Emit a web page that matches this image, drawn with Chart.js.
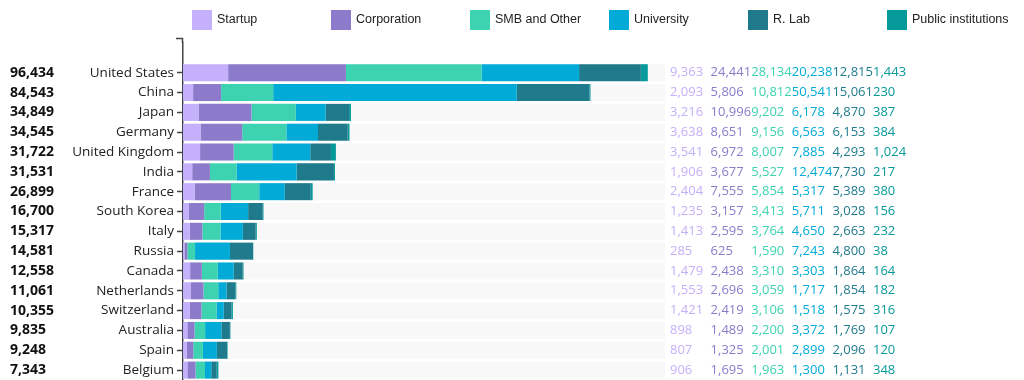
<!DOCTYPE html>
<html>
<head>
<meta charset="utf-8">
<script src="https://cdn.jsdelivr.net/npm/chart.js@4"></script>
<style>
  html, body { margin: 0; padding: 0; background: #fff; }
  #wrap { width: 1024px; height: 380px; position: relative; }
</style>
</head>
<body>
<div id="wrap"><canvas id="grafica"></canvas></div>
<script>
// countries, top to bottom ('' = empty slot above the first bar)
var paises = ['', 'United States', 'China', 'Japan', 'Germany', 'United Kingdom', 'India', 'France',
  'South Korea', 'Italy', 'Russia', 'Canada', 'Netherlands', 'Switzerland', 'Australia', 'Spain', 'Belgium']

var startup     = [null, 9363, 2093, 3216, 3638, 3541, 1906, 2404, 1235, 1413, 285, 1479, 1553, 1421, 898, 807, 906]
var corporation = [null, 24441, 5806, 10996, 8651, 6972, 3677, 7555, 3157, 2595, 625, 2438, 2696, 2419, 1489, 1325, 1695]
var smb         = [null, 28134, 10812, 9202, 9156, 8007, 5527, 5854, 3413, 3764, 1590, 3310, 3059, 3106, 2200, 2001, 1963]
var university  = [null, 20238, 50541, 6178, 6563, 7885, 12474, 5317, 5711, 4650, 7243, 3303, 1717, 1518, 3372, 2899, 1300]
var rlab        = [null, 12815, 15061, 4870, 6153, 4293, 7730, 5389, 3028, 2663, 4800, 1864, 1854, 1575, 1769, 2096, 1131]
var publicas    = [null, 1443, 230, 387, 384, 1024, 217, 380, 156, 232, 38, 164, 182, 316, 107, 120, 348]

var escalaMax = 100000

var colores = ['#c5b0fb', '#8c7bcb', '#3dd3b0', '#02abd7', '#1f7a8c', '#069a9a']
var nombres = ['Startup', 'Corporation', 'SMB and Other', 'University', 'R. Lab', 'Public institutions']
var series = [startup, corporation, smb, university, rlab, publicas]

function fmt(n) { return n.toLocaleString('en-US') }

var extras = {
  id: 'extras',
  beforeDatasetsDraw: function(chart) {
    var ctx = chart.ctx, x = chart.scales.x, y = chart.scales.y
    var meta = chart.getDatasetMeta(0)
    ctx.save()
    ctx.fillStyle = '#f8f8f8'
    for (var i = 1; i < paises.length; i++) {
      var h = meta.data[i].height
      var cy = y.getPixelForValue(i)
      ctx.fillRect(x.getPixelForValue(0), cy - h / 2, x.getPixelForValue(escalaMax) - x.getPixelForValue(0), h)
    }
    ctx.restore()
  },
  afterDraw: function(chart) {
    var ctx = chart.ctx, y = chart.scales.y
    ctx.save()
    // outer tick at top of the axis
    ctx.strokeStyle = '#444'
    ctx.lineWidth = 1.5
    ctx.beginPath()
    ctx.moveTo(176, 38.5); ctx.lineTo(182.5, 38.5); ctx.lineTo(182.5, chart.chartArea.top)
    ctx.stroke()

    // legend
    ctx.textBaseline = 'middle'
    ctx.font = '12.5px "Liberation Sans", sans-serif'
    for (var k = 0; k < nombres.length; k++) {
      var lx = 192 + k * 139
      ctx.fillStyle = colores[k]
      ctx.fillRect(lx, 10, 20, 20)
      ctx.fillStyle = '#222'
      ctx.textAlign = 'left'
      ctx.fillText(nombres[k], lx + 25, 20)
    }

    for (var i = 1; i < paises.length; i++) {
      var cy = y.getPixelForValue(i)
      var total = 0
      series.forEach(function(s) { total += s[i] })
      ctx.font = 'bold 14px "Open Sans", sans-serif'
      ctx.fillStyle = '#111'
      ctx.textAlign = 'left'
      ctx.fillText(fmt(total), 10, cy)
      ctx.font = '13px "Open Sans", sans-serif'
      for (var j = 0; j < series.length; j++) {
        ctx.fillStyle = colores[j]
        ctx.fillText(fmt(series[j][i]), 670 + j * 40.6, cy)
      }
    }
    ctx.restore()
  }
}

var ctx = document.getElementById('grafica').getContext('2d')
var grafica = new Chart(ctx, {
  type: 'bar',
  data: {
    labels: paises,
    datasets: series.map(function(s, k) {
      return {
        label: nombres[k],
        data: s,
        backgroundColor: colores[k],
        borderWidth: 0,
        categoryPercentage: 1,
        barPercentage: 0.86
      }
    })
  },
  options: {
    indexAxis: 'y',
    responsive: true,
    maintainAspectRatio: false,
    animation: false,
    layout: { padding: { top: 43, right: 359, bottom: 0, left: 0 } },
    scales: {
      x: {
        stacked: true,
        display: false,
        min: 0,
        max: escalaMax
      },
      y: {
        stacked: true,
        afterFit: function(s) { s.width = 183; s.paddingTop = 0; s.paddingBottom = 0 },
        border: { display: true, color: '#444', width: 1.5 },
        grid: {
          drawOnChartArea: false,
          offset: false,
          tickLength: 6,
          tickWidth: 1.5,
          color: function(c) { return c.index === 0 ? 'rgba(0,0,0,0)' : '#444' }
        },
        ticks: {
          padding: 3,
          color: '#222',
          font: { family: '"Open Sans", sans-serif', size: 13.5 },
          autoSkip: false
        }
      }
    },
    plugins: {
      legend: { display: false },
      tooltip: { enabled: false }
    }
  },
  plugins: [extras]
})
</script>
</body>
</html>
